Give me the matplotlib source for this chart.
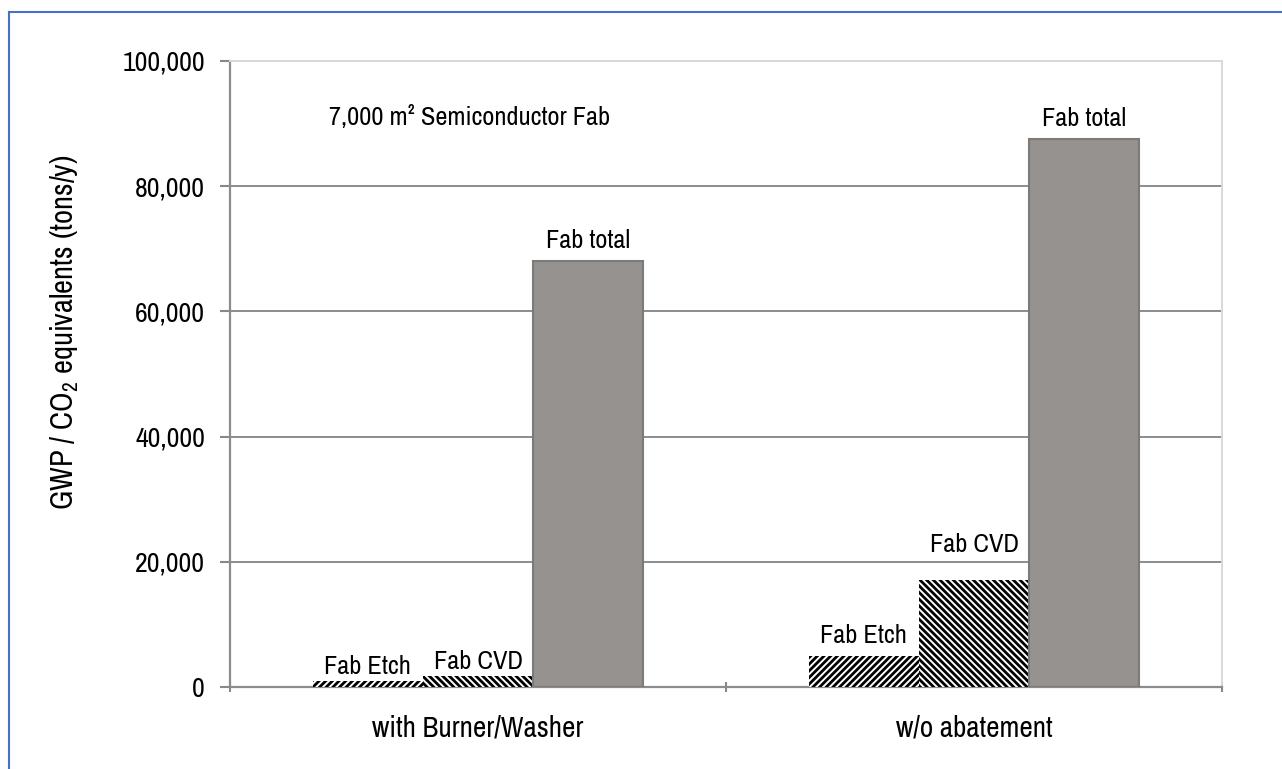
import numpy as np
import matplotlib.pyplot as plt
from matplotlib.lines import Line2D

plt.rcParams['font.family'] = ['Archivo Narrow', 'DejaVu Sans']
plt.rcParams['mathtext.fontset'] = 'custom'
plt.rcParams['mathtext.rm'] = 'Archivo Narrow'
plt.rcParams['mathtext.it'] = 'Archivo Narrow'
plt.rcParams['hatch.linewidth'] = 2.0

# GWP per scenario, tons CO2 equivalents per year
scenarios = ['with Burner/Washer', 'w/o abatement']
series = ['Fab Etch', 'Fab CVD', 'Fab total']
fab_etch = [1000, 5000]
fab_cvd = [1800, 17100]
fab_total = [68100, 87600]
yticks = [0, 20000, 40000, 60000, 80000, 100000]

fig = plt.figure(figsize=(12.82, 7.69), dpi=100)
ax = fig.add_axes([230 / 1282, 1 - 687 / 769, 992 / 1282, 626 / 769])

x = np.arange(len(scenarios))
w = 1 / 4.5
styles = [
    dict(color='white', edgecolor='black', hatch='/////', linewidth=0),
    dict(color='white', edgecolor='black', hatch='\\\\\\\\\\', linewidth=0),
    dict(color='#96928f', edgecolor='#7d7a77', linewidth=1.5),
]
# label gap above each bar, in points
gaps = [[2, 6], [2, 17]]
gaps_total = [6, 6]
for i, vals in enumerate([fab_etch, fab_cvd, fab_total]):
    xs = x + (i - 1) * w
    ax.bar(xs, vals, width=w, zorder=3, **styles[i])
    for j, (xx, v) in enumerate(zip(xs, vals)):
        g = gaps_total[j] if i == 2 else gaps[i][j]
        ax.annotate(series[i], (xx, v), xytext=(0, g), textcoords='offset points',
                    ha='center', va='bottom', fontsize=19)

ax.set_xlim(-0.5, 1.5)
ax.set_ylim(0, 100000)
ax.set_yticks(yticks)
ax.set_yticklabels([f'{t:,}' for t in yticks], fontsize=20)
ax.set_xticks(x)
ax.set_xticklabels(scenarios, fontsize=21)
ax.set_xticks([-0.5, 0.5, 1.5], minor=True)
ax.tick_params(axis='x', which='major', length=0, pad=20)
ax.tick_params(axis='x', which='minor', length=7, width=1.5, color='#888888', direction='inout')
ax.tick_params(axis='y', length=7, width=1.5, color='#888888', pad=11)
ax.yaxis.grid(True, color='#8c8c8c', linewidth=1.4, zorder=0)
ax.set_axisbelow(True)

for s in ['left', 'bottom']:
    ax.spines[s].set_color('#8c8c8c')
    ax.spines[s].set_linewidth(1.6)
for s in ['top', 'right']:
    ax.spines[s].set_color('#d9d9d9')
    ax.spines[s].set_linewidth(1.4)

ax.set_ylabel('GWP / CO$_2$ equivalents (tons/y)', fontsize=22)
ax.yaxis.set_label_coords(-0.150, 0.567)
ax.text(0.1, 0.91, '7,000 m² Semiconductor Fab', transform=ax.transAxes,
        fontsize=19, ha='left', va='center')

# blue frame at the top and left edge
fig.add_artist(Line2D([9 / 1282, 1], [1 - 12 / 769, 1 - 12 / 769], color='#4472c4', lw=1.5))
fig.add_artist(Line2D([9 / 1282, 9 / 1282], [0, 1 - 12 / 769], color='#4472c4', lw=1.5))

fig.savefig('out.png', dpi=100)
